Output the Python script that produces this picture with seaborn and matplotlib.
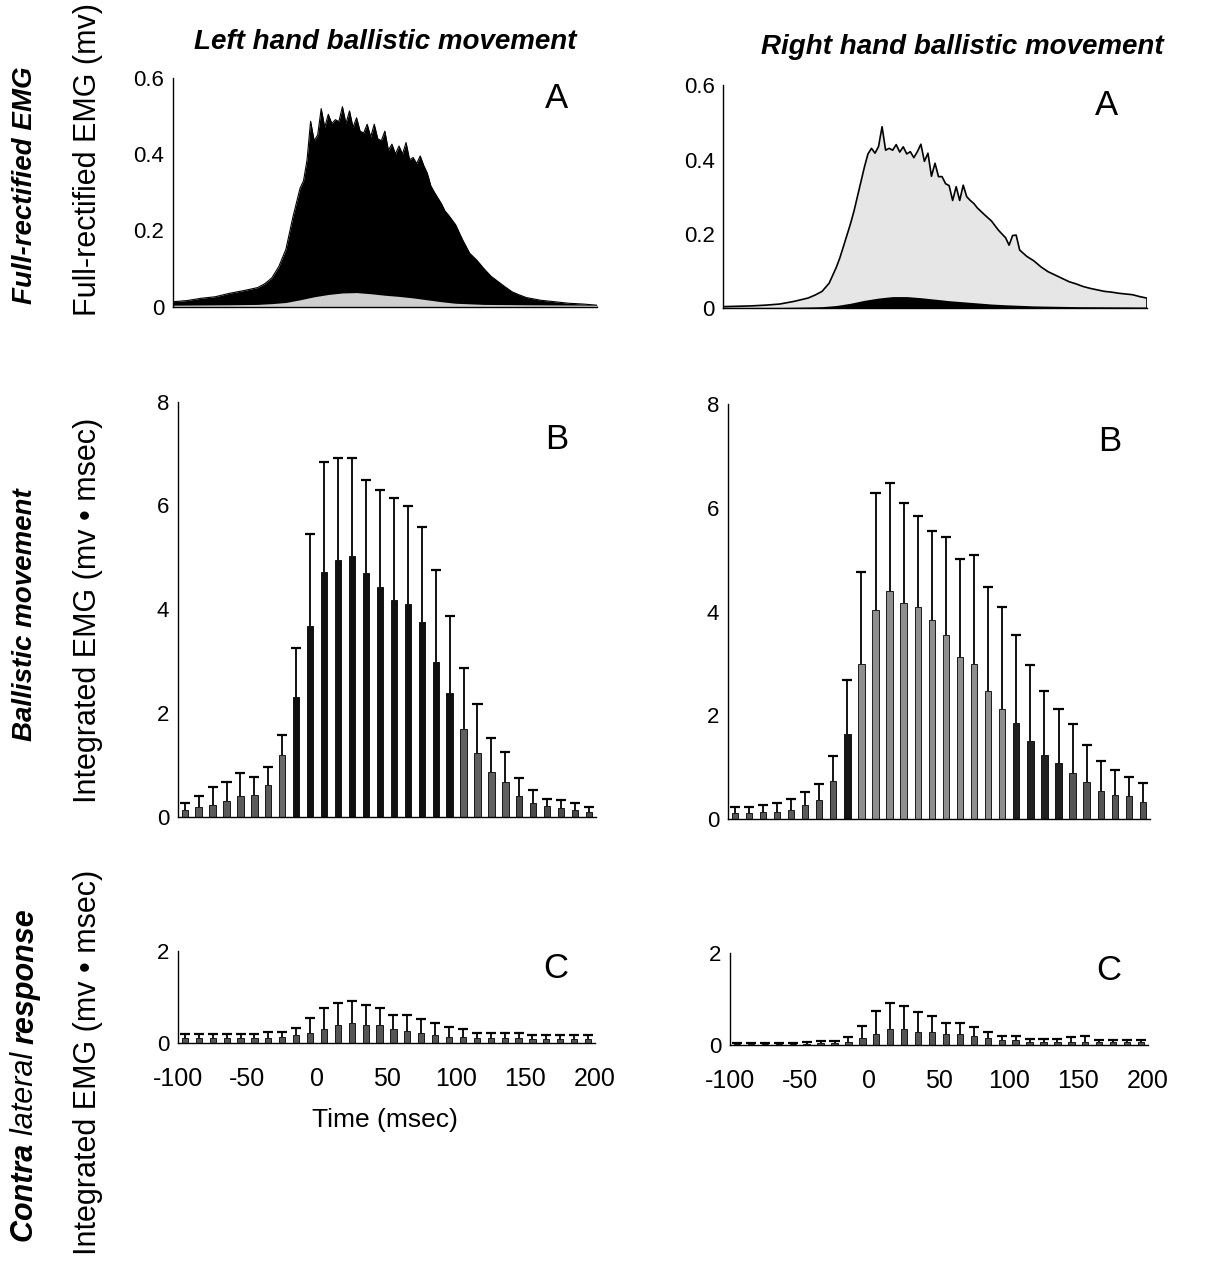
import numpy as np
import matplotlib
matplotlib.use("Agg")
import matplotlib.pyplot as plt
import seaborn as sns
import pandas as pd

sns.set_theme(style="white")
plt.rcParams['font.family'] = ['Liberation Sans', 'DejaVu Sans']

# ---- panel A: full-rectified EMG traces (mv) ----
t_left_moving = [-100, -90, -80, -70, -60, -50, -40, -35, -30, -25,
                 -20, -15, -10, -7.5, -5, -2.5, 0, 2.5, 5, 7.5,
                 10, 12.5, 15, 17.5, 20, 22.5, 25, 27.5, 30, 32.5,
                 35, 37.5, 40, 42.5, 45, 47.5, 50, 52.5, 55, 57.5,
                 60, 62.5, 65, 67.5, 70, 72.5, 75, 77.5, 80, 82.5,
                 85, 87.5, 90, 92.5, 95, 100, 105, 110, 115, 120,
                 125, 130, 135, 140, 145, 150, 160, 170, 180, 190, 200]
v_left_moving = [0.013, 0.016, 0.022, 0.026, 0.035, 0.042, 0.050, 0.060, 0.075, 0.105,
                 0.150, 0.235, 0.310, 0.330, 0.385, 0.486, 0.435, 0.450, 0.519, 0.470,
                 0.504, 0.480, 0.490, 0.485, 0.524, 0.480, 0.513, 0.470, 0.495, 0.460,
                 0.455, 0.478, 0.445, 0.478, 0.440, 0.435, 0.460, 0.410, 0.426, 0.400,
                 0.421, 0.400, 0.430, 0.385, 0.391, 0.375, 0.395, 0.370, 0.350, 0.317,
                 0.300, 0.285, 0.270, 0.251, 0.240, 0.215, 0.175, 0.140, 0.122, 0.100,
                 0.080, 0.066, 0.052, 0.039, 0.031, 0.024, 0.017, 0.013, 0.009, 0.007, 0.004]

t_small = [-100, -60, -40, -30, -20, -10, 0, 10, 20, 30,
           40, 50, 60, 70, 80, 90, 100, 120, 150, 200]
v_left_contra = [0.004, 0.005, 0.006, 0.008, 0.011, 0.018, 0.026, 0.032, 0.036, 0.037,
                 0.034, 0.030, 0.027, 0.023, 0.018, 0.013, 0.009, 0.006, 0.005, 0.004]

t_right_moving = [-100, -90, -80, -70, -60, -50, -40, -35, -30, -25,
                  -20, -17.5, -15, -10, -7.5, -5, -2.5, 0, 2.5, 5,
                  7.5, 10, 12.5, 15, 17.5, 20, 22.5, 25, 27.5, 30,
                  32.5, 35, 37.5, 40, 42.5, 45, 47.5, 50, 52.5, 55,
                  57.5, 60, 62.5, 65, 67.5, 70, 72.5, 75, 77.5, 80,
                  85, 90, 95, 100, 102.5, 105, 107.5, 110, 115, 120,
                  125, 130, 135, 140, 145, 150, 155, 160, 165, 170,
                  175, 180, 185, 190, 195, 200]
v_right_moving = [0.005, 0.006, 0.007, 0.009, 0.012, 0.019, 0.028, 0.036, 0.046, 0.068,
                  0.110, 0.135, 0.165, 0.226, 0.260, 0.300, 0.340, 0.380, 0.415, 0.430,
                  0.417, 0.435, 0.488, 0.425, 0.430, 0.425, 0.440, 0.420, 0.434, 0.415,
                  0.421, 0.405, 0.421, 0.441, 0.395, 0.417, 0.355, 0.390, 0.354, 0.354,
                  0.335, 0.330, 0.290, 0.327, 0.290, 0.331, 0.300, 0.290, 0.282, 0.270,
                  0.252, 0.235, 0.210, 0.190, 0.170, 0.196, 0.197, 0.157, 0.140, 0.128,
                  0.112, 0.099, 0.090, 0.081, 0.072, 0.066, 0.059, 0.054, 0.050, 0.046,
                  0.044, 0.041, 0.039, 0.037, 0.032, 0.028]
v_right_contra = [0.003, 0.003, 0.004, 0.005, 0.008, 0.014, 0.022, 0.028, 0.032, 0.032,
                  0.029, 0.025, 0.021, 0.018, 0.015, 0.012, 0.010, 0.007, 0.005, 0.004]

# ---- panels B and C: integrated EMG per 10 msec bin (mean and SD) ----
bins = list(range(-95, 200, 10))

left_b_mean = [0.13, 0.19, 0.22, 0.31, 0.39, 0.42, 0.61, 1.19, 2.31, 3.68,
               4.72, 4.95, 5.03, 4.69, 4.42, 4.18, 4.10, 3.75, 2.99, 2.38,
               1.70, 1.23, 0.87, 0.67, 0.40, 0.27, 0.21, 0.16, 0.13, 0.10]
left_b_sd = [0.14, 0.20, 0.36, 0.35, 0.45, 0.34, 0.35, 0.38, 0.95, 1.77,
             2.12, 1.96, 1.88, 1.80, 1.88, 1.96, 1.88, 1.84, 1.77, 1.49,
             1.17, 0.94, 0.64, 0.58, 0.34, 0.24, 0.14, 0.16, 0.14, 0.09]

right_b_mean = [0.12, 0.12, 0.15, 0.15, 0.18, 0.28, 0.37, 0.73, 1.64, 2.99,
                4.04, 4.40, 4.16, 4.08, 3.83, 3.55, 3.12, 2.99, 2.47, 2.13,
                1.86, 1.51, 1.24, 1.09, 0.89, 0.71, 0.55, 0.47, 0.44, 0.34]
right_b_sd = [0.12, 0.12, 0.13, 0.16, 0.21, 0.25, 0.31, 0.49, 1.04, 1.77,
              2.24, 2.07, 1.93, 1.76, 1.73, 1.89, 1.89, 2.11, 2.01, 1.95,
              1.69, 1.46, 1.24, 1.04, 0.94, 0.72, 0.58, 0.48, 0.37, 0.35]

left_c_mean = [0.11, 0.11, 0.11, 0.11, 0.11, 0.11, 0.11, 0.13, 0.18, 0.22,
               0.30, 0.39, 0.43, 0.39, 0.39, 0.30, 0.26, 0.22, 0.17, 0.14,
               0.13, 0.11, 0.11, 0.11, 0.11, 0.09, 0.09, 0.09, 0.09, 0.09]
left_c_sd = [0.09, 0.09, 0.09, 0.09, 0.09, 0.09, 0.13, 0.11, 0.14, 0.32,
             0.46, 0.49, 0.49, 0.44, 0.37, 0.31, 0.35, 0.31, 0.26, 0.22,
             0.17, 0.11, 0.11, 0.11, 0.11, 0.08, 0.08, 0.08, 0.08, 0.08]

right_c_mean = [0.03, 0.03, 0.03, 0.03, 0.03, 0.02, 0.04, 0.05, 0.07, 0.15,
                0.25, 0.34, 0.34, 0.29, 0.29, 0.25, 0.25, 0.20, 0.15, 0.11,
                0.11, 0.07, 0.07, 0.07, 0.07, 0.07, 0.06, 0.06, 0.06, 0.06]
right_c_sd = [0.02, 0.02, 0.02, 0.02, 0.02, 0.05, 0.05, 0.04, 0.11, 0.27,
              0.49, 0.57, 0.52, 0.44, 0.35, 0.22, 0.22, 0.19, 0.14, 0.09,
              0.09, 0.05, 0.05, 0.05, 0.10, 0.13, 0.05, 0.05, 0.05, 0.05]

x_ticks = [-100, -50, 0, 50, 100, 150, 200]

# bar shading (style, not data)
left_b_colors = ["#5a5a5a"] * 7 + ["#6a6a6a"] + ["#101010"] * 12 + ["#606060"] * 4 + ["#4a4a4a"] * 6
right_b_colors = (["#5a5a5a"] * 8 + ["#151515"] + ["#8e8e8e"] * 11 + ["#202020"] * 4 + ["#555555"] * 6)
c_colors = ["#555555"] * 30

W, H = 1208, 1262
fig = plt.figure(figsize=(W / 100, H / 100), dpi=100)


def rect(x0, x1, ytop, ybot):
    return [x0 / W, 1 - ybot / H, (x1 - x0) / W, (ybot - ytop) / H]


def style_axes(ax, ylim, yticks, yticklabels, show_x):
    ax.set_xlim(-100, 200)
    ax.set_ylim(*ylim)
    ax.set_yticks(yticks)
    ax.set_yticklabels(yticklabels)
    ax.set_xticks(x_ticks)
    for s in ["top", "right"]:
        ax.spines[s].set_visible(False)
    for s in ["left", "bottom"]:
        ax.spines[s].set_color("black")
        ax.spines[s].set_linewidth(1.0)
    ax.tick_params(axis="y", direction="in", length=5, width=1.0, labelsize=16, pad=6, colors="black")
    if show_x:
        ax.set_xticklabels([str(v) for v in x_ticks])
        ax.tick_params(axis="x", direction="inout", length=8, width=1.0, labelsize=18, pad=13, colors="black")
    else:
        ax.set_xticklabels([])
        ax.tick_params(axis="x", direction="out", length=7, width=1.0, colors="black")
    ax.set_xlabel("")
    ax.set_ylabel("")
    ax.patch.set_alpha(0)


def bar_panel(ax, mean, sd, colors):
    df = pd.DataFrame({"t": bins, "v": mean})
    sns.barplot(data=df, x="t", y="v", native_scale=True, width=0.45,
                color="black", errorbar=None, ax=ax, zorder=2)
    for p, c in zip(ax.patches, colors):
        p.set_facecolor(c)
        p.set_edgecolor("black")
        p.set_linewidth(0.6)
    top = np.array(mean) + np.array(sd)
    ax.vlines(bins, mean, top, color="black", lw=1.3, zorder=3)
    ax.hlines(top, np.array(bins) - 3.6, np.array(bins) + 3.6, color="black", lw=1.6, zorder=3)


# ---- row A ----
axA1 = fig.add_axes(rect(172.7, 597, 77.7, 306.7))
axA1.fill_between(t_left_moving, 0, v_left_moving, color="black", lw=0)
sns.lineplot(x=t_left_moving, y=v_left_moving, color="black", lw=0.8, ax=axA1)
axA1.fill_between(t_small, 0, v_left_contra, color="#cfcfcf", lw=0)
style_axes(axA1, (0, 0.6), [0, 0.2, 0.4, 0.6], ["0", "0.2", "0.4", "0.6"], False)

axA2 = fig.add_axes(rect(723.3, 1146.7, 85, 308.5))
axA2.fill_between(t_right_moving, 0, v_right_moving, color="#e6e6e6", lw=0)
sns.lineplot(x=t_right_moving, y=v_right_moving, color="black", lw=1.2, ax=axA2)
axA2.vlines(t_right_moving[-1], 0, v_right_moving[-1], color="black", lw=1.2)
axA2.fill_between(t_small, 0, v_right_contra, color="black", lw=0)
style_axes(axA2, (0, 0.6), [0, 0.2, 0.4, 0.6], ["0", "0.2", "0.4", "0.6"], False)

# ---- row B ----
axB1 = fig.add_axes(rect(177.7, 596, 401.7, 816.7))
bar_panel(axB1, left_b_mean, left_b_sd, left_b_colors)
style_axes(axB1, (0, 8), [0, 2, 4, 6, 8], ["0", "2", "4", "6", "8"], False)

axB2 = fig.add_axes(rect(727.7, 1150, 404, 819.3))
bar_panel(axB2, right_b_mean, right_b_sd, right_b_colors)
style_axes(axB2, (0, 8), [0, 2, 4, 6, 8], ["0", "2", "4", "6", "8"], False)

# ---- row C ----
axC1 = fig.add_axes(rect(178, 595, 950.7, 1043.3))
bar_panel(axC1, left_c_mean, left_c_sd, c_colors)
style_axes(axC1, (0, 2), [0, 2], ["0", "2"], True)

axC2 = fig.add_axes(rect(730, 1148, 953.3, 1045))
bar_panel(axC2, right_c_mean, right_c_sd, c_colors)
style_axes(axC2, (0, 2), [0, 2], ["0", "2"], True)

# panel letters
for ax, letter in [(axA1, "A"), (axA2, "A"), (axB1, "B"), (axB2, "B"), (axC1, "C"), (axC2, "C")]:
    ax.text(0.905, 0.91 if letter != "C" else 0.81, letter, transform=ax.transAxes,
            ha="center", va="center", fontsize=25, color="black")

# column titles
bi = dict(fontsize=20, fontweight="bold", fontstyle="italic", color="black")
fig.text(385 / W, 1 - 42 / H, "Left hand ballistic movement", ha="center", va="center", **bi)
fig.text(962 / W, 1 - 47 / H, "Right hand ballistic movement", ha="center", va="center", **bi)

# row titles
rl = dict(fontsize=20, fontweight="bold", fontstyle="italic", color="black", rotation=90)
fig.text(25 / W, 1 - 185 / H, "Full-rectified EMG", ha="center", va="center", **rl)
fig.text(25 / W, 1 - 615 / H, "Ballistic movement", ha="center", va="center", **rl)

# "Contra lateral response" with a lighter middle word, stacked bottom to top
renderer = fig.canvas.get_renderer()
pieces = [("Contra ", "bold"), ("lateral ", "normal"), ("response", "bold")]
texts = []
for s, w in pieces:
    texts.append(fig.text(25 / W, 0, s, ha="center", va="bottom", rotation=90,
                          fontsize=22, fontweight=w, fontstyle="italic", color="black"))
heights = [t.get_window_extent(renderer).height for t in texts]
y0 = (H - 1075) - sum(heights) / 2
for t, h in zip(texts, heights):
    t.set_y(y0 / H)
    y0 += h

yl = dict(fontsize=22, color="black", rotation=90)
fig.text(88 / W, 1 - 160 / H, "Full-rectified EMG (mv)", ha="center", va="center", **yl)
fig.text(88 / W, 1 - 610 / H, "Integrated EMG (mv \u2022 msec)", ha="center", va="center", **yl)
fig.text(88 / W, 1 - 1062 / H, "Integrated EMG (mv \u2022 msec)", ha="center", va="center", **yl)

fig.text(385 / W, 1 - 1120 / H, "Time (msec)", ha="center", va="center", fontsize=19, color="black")

fig.savefig("out.png", dpi=100)
